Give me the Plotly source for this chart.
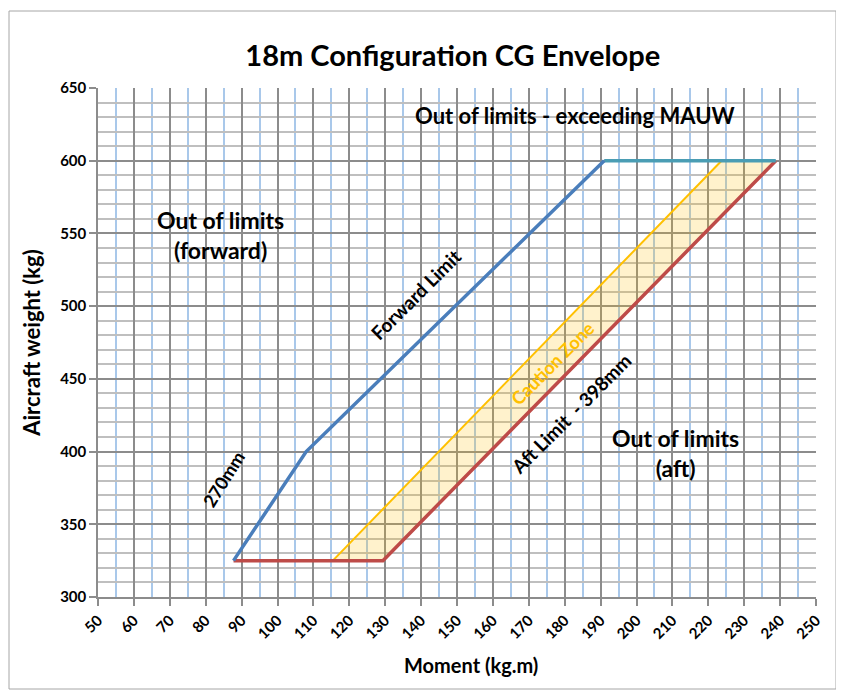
import plotly.graph_objects as go

# Envelope data (moment kg.m, weight kg)
forward_x = [87.75, 108.0, 191.0]
forward_y = [325, 400, 600]
aft_x = [87.75, 129.35, 238.8]
aft_y = [325, 325, 600]
mauw_x = [191.0, 238.8]
mauw_y = [600, 600]
caution_x = [115.4, 223.7]
caution_y = [325, 600]

x_ticks = list(range(50, 260, 10))
y_ticks = list(range(300, 700, 50))

FONT = "Lato, 'Open Sans', sans-serif"

fig = go.Figure()

# caution zone fill polygon (between caution line and aft limit)
fill_x = [caution_x[0], aft_x[1], aft_x[2], caution_x[1], caution_x[0]]
fill_y = [caution_y[0], aft_y[1], aft_y[2], caution_y[1], caution_y[0]]
fig.add_trace(go.Scatter(x=fill_x, y=fill_y, mode="lines", fill="toself",
                         fillcolor="rgba(255,192,0,0.2)", line=dict(width=0),
                         hoverinfo="skip", showlegend=False))
fig.add_trace(go.Scatter(x=caution_x, y=caution_y, mode="lines",
                         line=dict(color="#FFC000", width=2), showlegend=False))
fig.add_trace(go.Scatter(x=aft_x, y=aft_y, mode="lines",
                         line=dict(color="#BE4B48", width=3.5), showlegend=False))
fig.add_trace(go.Scatter(x=mauw_x, y=mauw_y, mode="lines",
                         line=dict(color="#4A9DB4", width=3.5), showlegend=False))
fig.add_trace(go.Scatter(x=forward_x, y=forward_y, mode="lines",
                         line=dict(color="#4A7EBB", width=3.5), showlegend=False))

ann_font = dict(family=FONT, size=22, color="black", weight="bold")
lbl_font = dict(family=FONT, size=19, color="black", weight="bold")
annotations = [
    dict(x=183, y=631, text="Out of limits - exceeding MAUW", font=ann_font),
    dict(x=84, y=549, text="Out of limits<br>(forward)",
         font=dict(family=FONT, size=23, color="black", weight="bold")),
    dict(x=211, y=399, text="Out of limits<br>(aft)",
         font=dict(family=FONT, size=23, color="black", weight="bold")),
    dict(x=138.5, y=508, text="Forward Limit", font=lbl_font, textangle=-45),
    dict(x=85, y=381, text="270mm", font=dict(family=FONT, size=18, color="black", weight="bold"),
         textangle=-58),
    dict(x=176.6, y=461, text="Caution Zone",
         font=dict(family=FONT, size=18, color="#FFC000", weight="bold"), textangle=-45),
    dict(x=181.8, y=426, text="Aft Limit  - 398mm", font=lbl_font, textangle=-45),
]
for a in annotations:
    a.update(xref="x", yref="y", showarrow=False)
# x-axis title placed as paper annotation
annotations.append(dict(xref="paper", yref="paper", x=(471 - 98) / 718, y=(597 - 665) / 509,
                        xanchor="center", yanchor="middle",
                        text="<b>Moment (kg.m)</b>", showarrow=False,
                        font=dict(family=FONT, size=20, color="black")))
fig.update_layout(annotations=annotations)

fig.update_layout(
    width=844, height=694,
    margin=dict(l=90, r=36, t=80, b=105),
    paper_bgcolor="white", plot_bgcolor="white",
    title=dict(text="<b>18m Configuration CG Envelope</b>", x=0.527, xanchor="center",
               y=0.931, yanchor="middle",
               font=dict(family=FONT, size=29, color="black")),
    xaxis=dict(
        range=[50, 250], tickvals=x_ticks, ticktext=[str(v) for v in x_ticks],
        tickangle=-45, tickfont=dict(family=FONT, size=15, color="black", weight="bold"),
        showgrid=True, gridcolor="#8C8C8C", gridwidth=1.5,
        minor=dict(dtick=5, tick0=55, showgrid=True, gridcolor="#A9C8EA", gridwidth=1.5),
        ticks="outside", ticklen=7, tickcolor="#8C8C8C", tickwidth=1.5,
        showline=True, linecolor="#8C8C8C", linewidth=1.5, zeroline=False,
    ),
    yaxis=dict(
        range=[300, 650], tickvals=y_ticks, ticktext=[str(v) for v in y_ticks],
        tickfont=dict(family=FONT, size=15, color="black", weight="bold"),
        showgrid=True, gridcolor="#8C8C8C", gridwidth=1.5,
        minor=dict(dtick=10, showgrid=True, gridcolor="#BFBFBF", gridwidth=1.5),
        ticks="outside", ticklen=7, tickcolor="#8C8C8C", tickwidth=1.5,
        showline=True, linecolor="#8C8C8C", linewidth=1.5, zeroline=False,
        title=dict(text="<b>Aircraft weight (kg)</b>", font=dict(family=FONT, size=22, color="black"),
                   standoff=13),
    ),
    shapes=[dict(type="rect", xref="paper", yref="paper",
                 x0=(9 - 98) / 718, x1=(836 - 98) / 718,
                 y0=(597 - 689) / 509, y1=(597 - 11) / 509,
                 line=dict(color="#A6A6A6", width=1), layer="below")],
)

fig.write_html("out.html")
